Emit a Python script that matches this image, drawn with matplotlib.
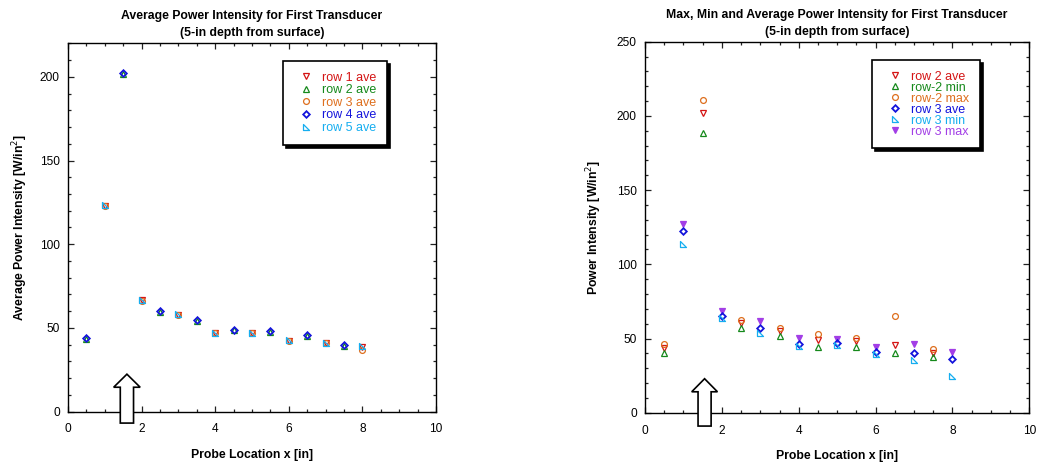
import matplotlib
matplotlib.use("Agg")
import matplotlib.pyplot as plt
from matplotlib.path import Path
from matplotlib.patches import Polygon
from matplotlib.ticker import MultipleLocator

plt.rcParams['font.family'] = ['Liberation Sans', 'DejaVu Sans']

# ---------------- data ----------------
x_half = [0.5, 1.5, 2.5, 3.5, 4.5, 5.5, 6.5, 7.5]
x_int = [1.0, 2.0, 3.0, 4.0, 5.0, 6.0, 7.0, 8.0]

# left chart: average intensity per row
row1_ave = [123.0, 66.5, 58.0, 47.0, 47.0, 42.5, 41.0, 38.5]
row2_ave_l = [43.5, 201.8, 59.5, 54.4, 48.5, 47.6, 45.2, 39.5]
row3_ave_l = [122.8, 66.3, 57.8, 46.8, 46.8, 42.3, 40.8, 37.0]
row4_ave = [44.0, 202.3, 60.0, 54.9, 49.0, 48.1, 45.7, 40.0]
row5_ave = [123.2, 66.7, 58.1, 47.1, 47.1, 42.6, 41.2, 39.5]

# right chart: max, min, average
row2_ave = [43.8, 201.9, 60.6, 55.3, 49.0, 48.3, 45.8, 40.4]
row2_min = [40.0, 188.5, 57.3, 51.9, 44.2, 44.2, 40.0, 37.7]
row2_max = [46.3, 210.9, 62.7, 57.3, 53.2, 50.5, 65.1, 43.1]
row3_ave = [122.4, 65.1, 57.3, 46.5, 46.9, 41.1, 40.0, 36.2]
row3_min = [113.7, 63.6, 53.9, 44.9, 45.8, 39.5, 35.5, 24.7]
row3_max = [126.9, 68.7, 61.8, 50.3, 49.6, 44.5, 46.3, 41.1]

# ---------------- style ----------------
RED = '#d41414'
GREEN = '#15891b'
ORANGE = '#de6f1e'
BLUE = '#1414dc'
CYAN = '#16aef0'
PURPLE = '#a23ee6'

rtri = Path([(-1, 1), (-1, -1), (1, -1), (-1, 1)],
            [Path.MOVETO, Path.LINETO, Path.LINETO, Path.CLOSEPOLY])

MS = 4.2
MEW = 0.9

fig = plt.figure(figsize=(10.37, 4.62), dpi=100)
ax1 = fig.add_axes([0.0656, 0.1089, 0.3549, 0.7974])
ax2 = fig.add_axes([0.6220, 0.1067, 0.3706, 0.8030])


def hollow(ax, x, y, marker, color, label, filled=False):
    return ax.plot(x, y, linestyle='none', marker=marker, ms=MS, mew=MEW,
                   mec=color, mfc=(color if filled else 'none'),
                   color=color, label=label)[0]


def style_axis(ax, ymax):
    ax.set_xlim(0, 10)
    ax.set_ylim(0, ymax)
    ax.xaxis.set_major_locator(MultipleLocator(2))
    ax.xaxis.set_minor_locator(MultipleLocator(0.5))
    ax.yaxis.set_major_locator(MultipleLocator(50))
    ax.yaxis.set_minor_locator(MultipleLocator(10))
    ax.tick_params(which='both', direction='in', top=True, right=True,
                   width=0.9, color='#222222')
    ax.tick_params(which='major', length=4.2, labelsize=8.6)
    ax.tick_params(axis='x', which='major', pad=8.5)
    ax.tick_params(axis='y', which='major', pad=6)
    ax.tick_params(which='minor', length=2.4)
    for s in ax.spines.values():
        s.set_linewidth(1.0)
    ax.set_xlabel('Probe Location x [in]', fontsize=8.8, fontweight='bold',
                  labelpad=10)


def draw_arrow(ax, xc, body_hw, head_hw, y0, yhead, ytip):
    pts = [(xc - body_hw, y0), (xc - body_hw, yhead), (xc - head_hw, yhead),
           (xc, ytip), (xc + head_hw, yhead), (xc + body_hw, yhead),
           (xc + body_hw, y0)]
    p = Polygon(pts, closed=True, facecolor='white', edgecolor='black',
                linewidth=1.2, clip_on=False, zorder=10)
    ax.add_patch(p)


def make_legend(ax, handles, anchor, spacing):
    leg = ax.legend(handles=handles, loc='upper left', bbox_to_anchor=anchor,
                    borderaxespad=0, fontsize=9, labelcolor='linecolor',
                    frameon=True, fancybox=False, numpoints=1,
                    handlelength=2.0, handletextpad=0.31, labelspacing=spacing,
                    borderpad=0.85,
                    shadow={'color': 'black', 'alpha': 1.0, 'ox': 2.2, 'oy': -2.2})
    fr = leg.get_frame()
    fr.set_edgecolor('black')
    fr.set_linewidth(1.2)
    return leg


# ---------------- left chart ----------------
h2 = hollow(ax1, x_half, row2_ave_l, '^', GREEN, 'row 2 ave')
h4 = hollow(ax1, x_half, row4_ave, 'D', BLUE, 'row 4 ave')
h1 = hollow(ax1, x_int, row1_ave, 'v', RED, 'row 1 ave')
h3 = hollow(ax1, x_int, row3_ave_l, 'o', ORANGE, 'row 3 ave')
h5 = hollow(ax1, x_int, row5_ave, rtri, CYAN, 'row 5 ave')
h4.set_markersize(MS * 0.8)
h4.set_markeredgewidth(1.3)

style_axis(ax1, 220)
ax1.set_ylabel('Average Power Intensity [W/in$^2$]', fontsize=8.8,
               fontweight='bold', labelpad=7)
ax1.set_title('Average Power Intensity for First Transducer\n'
              '(5-in depth from surface)', fontsize=8.8, fontweight='bold',
              pad=5, linespacing=1.55)
draw_arrow(ax1, 1.6, 0.18, 0.36, -6.8, 14.6, 22.4)
make_legend(ax1, [h1, h2, h3, h4, h5], (0.583, 0.952), 0.05)

# ---------------- right chart ----------------
g1 = hollow(ax2, x_half, row2_ave, 'v', RED, 'row 2 ave')
g2 = hollow(ax2, x_half, row2_min, '^', GREEN, 'row-2 min')
g3 = hollow(ax2, x_half, row2_max, 'o', ORANGE, 'row-2 max')
g6 = hollow(ax2, x_int, row3_max, 'v', PURPLE, 'row 3 max', filled=True)
g4 = hollow(ax2, x_int, row3_ave, 'D', BLUE, 'row 3 ave')
g5 = hollow(ax2, x_int, row3_min, rtri, CYAN, 'row 3 min')
g4.set_markersize(MS * 0.8)
g4.set_markeredgewidth(1.3)

style_axis(ax2, 250)
ax2.set_ylabel('Power Intensity [W/in$^2$]', fontsize=8.8,
               fontweight='bold', labelpad=9)
ax2.set_title('Max, Min and Average Power Intensity for First Transducer\n'
              '(5-in depth from surface)', fontsize=8.8, fontweight='bold',
              pad=5, linespacing=1.55)
draw_arrow(ax2, 1.55, 0.17, 0.335, -9.0, 14.1, 22.9)
make_legend(ax2, [g1, g2, g3, g4, g5, g6], (0.590, 0.951), -0.08)

fig.savefig('out.png', dpi=100)
